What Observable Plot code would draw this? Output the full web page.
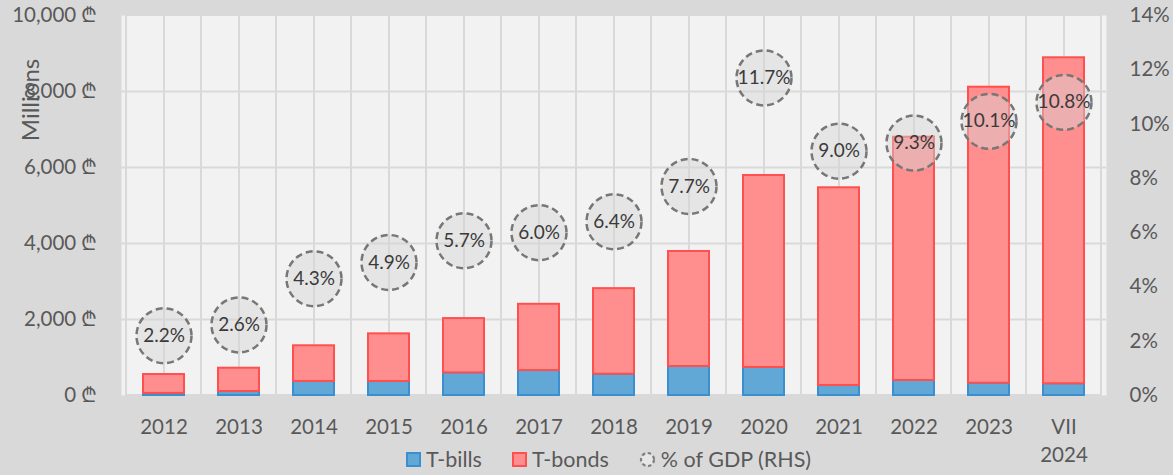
<!DOCTYPE html>
<html><head><meta charset="utf-8">
<script src="https://cdn.jsdelivr.net/npm/d3@7"></script>
<script src="https://cdn.jsdelivr.net/npm/@observablehq/plot@0.6"></script>
<style>
body{margin:0;background:#d9d9d9;font-family:Lato,"DejaVu Sans",sans-serif;}
#wrap{position:relative;width:1173px;height:475px;overflow:hidden;background:#d9d9d9;}
#ylab{position:absolute;left:29px;top:100px;transform:translate(-50%,-50%) rotate(-90deg);font-size:24px;color:#595959;white-space:nowrap;}
#legend{position:absolute;top:446px;left:116px;width:985px;display:flex;justify-content:center;align-items:center;gap:30px;font-size:21.5px;color:#595959;}
.item{display:flex;align-items:center;gap:5px;}
.sw{width:11px;height:11px;border:2px solid;}
</style></head>
<body><div id="wrap"><div id="chart"></div><div id="ylab">Millions</div>
<div id="legend">
<div class="item"><div class="sw" style="background:#62a8d6;border-color:#3b8fce"></div><span>T-bills</span></div>
<div class="item"><div class="sw" style="background:#ff8f8f;border-color:#ff4f4f"></div><span>T-bonds</span></div>
<div class="item"><svg width="17" height="17"><circle cx="8.5" cy="8.5" r="6.5" fill="#e6e6e6" stroke="#7f7f7f" stroke-width="2.2" stroke-dasharray="3.5,2.5"/></svg><span>% of GDP (RHS)</span></div>
</div></div>
<script>
const categories = ["2012","2013","2014","2015","2016","2017","2018","2019","2020","2021","2022","2023","VII 2024"];
const tbills = [55,105,368,368,596,657,560,763,737,263,395,324,308];
const tbonds = [497,613,940,1254,1428,1743,2252,3027,5053,5203,6402,7789,8579];
const gdpPct = [2.2,2.6,4.3,4.9,5.7,6.0,6.4,7.7,11.7,9.0,9.3,10.1,10.8];
const yTicks = [0,2000,4000,6000,8000,10000];
const pctTicks = [0,2,4,6,8,10,12,14];

const pct2y = p => p / 14 * 10000;
const rows = categories.map((c, i) => ({cat: c, bills: tbills[i], bonds: tbonds[i], pct: gdpPct[i]}));

const chart = Plot.plot({
  width: 1173, height: 475,
  marginLeft: 121, marginRight: 67, marginTop: 15, marginBottom: 80,
  style: {background: "transparent", fontFamily: "Lato, 'DejaVu Sans', sans-serif", color: "#595959"},
  x: {domain: categories, padding: 0, label: null},
  y: {domain: [0, 10000], label: null},
  marks: [
    Plot.frame({fill: "#f2f2f2", stroke: null}),
    Plot.ruleY(yTicks.slice(1, -1), {stroke: "#d9d9d9", strokeWidth: 2}),
    Plot.barY(categories, {x: d => d, y1: 0, y2: 10000, fill: "none", stroke: "#d9d9d9", strokeWidth: 2}),
    Plot.ruleX(categories, {x: d => d, stroke: "#d9d9d9", strokeWidth: 2}),
    Plot.barY(rows, {x: "cat", y1: 0, y2: "bills", fill: "#62a8d6", stroke: "#3b8fce", strokeWidth: 2, insetLeft: 17, insetRight: 17}),
    Plot.barY(rows, {x: "cat", y1: "bills", y2: d => d.bills + d.bonds, fill: "#ff8f8f", stroke: "#ff4f4f", strokeWidth: 2, insetLeft: 17, insetRight: 17}),
    Plot.dot(rows, {x: "cat", y: d => pct2y(d.pct), r: 27.5, fill: "#d4d4d4", fillOpacity: 0.45, stroke: "#777777", strokeWidth: 2.5, strokeDasharray: "7,4"}),
    Plot.text(rows, {x: "cat", y: d => pct2y(d.pct), text: d => d.pct.toFixed(1) + "%", fontSize: 19, fill: "#3a3a3a"}),
    Plot.axisY({ticks: yTicks, tickFormat: d => d3.format(",")(d) + " ₾", tickSize: 0, tickPadding: 24, fontSize: 20.5, label: null}),
    Plot.axisY({anchor: "right", ticks: pctTicks.map(pct2y), tickFormat: d => Math.round(d * 14 / 10000) + "%", tickSize: 0, tickPadding: 23, fontSize: 20.5, label: null}),
    Plot.axisX({tickSize: 0, tickPadding: 19, tickFormat: d => d.replace(" ", "\n"), fontSize: 20.5, lineHeight: 1.35, label: null})
  ]
});
document.getElementById("chart").appendChild(chart);
</script>
</body></html>
